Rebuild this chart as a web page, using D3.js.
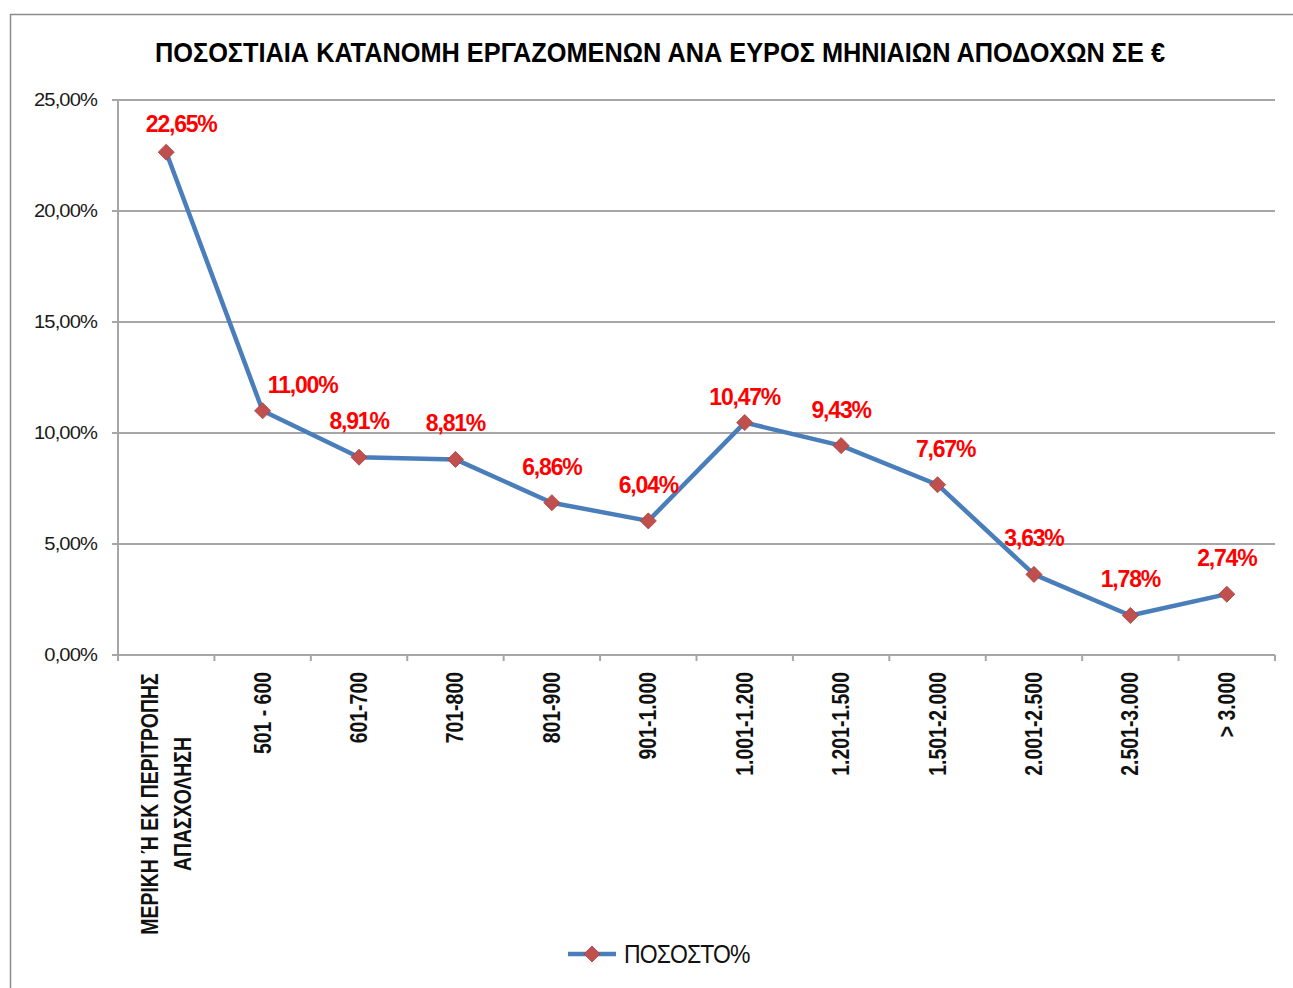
<!DOCTYPE html>
<html>
<head>
<meta charset="utf-8">
<script src="https://cdn.jsdelivr.net/npm/d3@7"></script>
<style>
  body { margin: 0; background: #fff; }
  text { font-family: "Liberation Sans", Arial, sans-serif; }
</style>
</head>
<body>
<div id="chart"></div>
<script>
const title = "ΠΟΣΟΣΤΙΑΙΑ ΚΑΤΑΝΟΜΗ ΕΡΓΑΖΟΜΕΝΩΝ ΑΝΑ ΕΥΡΟΣ ΜΗΝΙΑΙΩΝ ΑΠΟΔΟΧΩΝ ΣΕ €";
const categories = [
  ["ΜΕΡΙΚΗ Ή ΕΚ ΠΕΡΙΤΡΟΠΗΣ", "ΑΠΑΣΧΟΛΗΣΗ"],
  ["501 - 600"], ["601-700"], ["701-800"], ["801-900"], ["901-1.000"],
  ["1.001-1.200"], ["1.201-1.500"], ["1.501-2.000"], ["2.001-2.500"],
  ["2.501-3.000"], ["> 3.000"]
];
const values = [22.65, 11.00, 8.91, 8.81, 6.86, 6.04, 10.47, 9.43, 7.67, 3.63, 1.78, 2.74];
const yTicks = [0, 5, 10, 15, 20, 25];
const seriesName = "ΠΟΣΟΣΤΟ%";

const W = 1293, H = 988;
const plot = { left: 118, right: 1275, top: 100, bottom: 655 };

const svg = d3.select("#chart").append("svg")
  .attr("width", W).attr("height", H);

// outer frame
svg.append("rect")
  .attr("x", 10.5).attr("y", 14.5)
  .attr("width", 1290).attr("height", 980)
  .attr("fill", "none").attr("stroke", "#8c8c8c").attr("stroke-width", 1.5);

const fmt = v => v.toFixed(2).replace(".", ",") + "%";

const x = d3.scaleBand()
  .domain(d3.range(categories.length))
  .range([plot.left, plot.right])
  .padding(0);
const y = d3.scaleLinear().domain([0, 25]).range([plot.bottom, plot.top]);
const cx = i => x(i) + x.bandwidth() / 2;

// title
svg.append("text")
  .attr("x", 660).attr("y", 62)
  .attr("text-anchor", "middle")
  .attr("font-size", 28).attr("font-weight", "bold")
  .attr("textLength", 1010).attr("lengthAdjust", "spacingAndGlyphs")
  .text(title);

// gridlines
svg.append("g").selectAll("line")
  .data(yTicks)
  .join("line")
  .attr("x1", plot.left - 6).attr("x2", plot.right)
  .attr("y1", d => y(d)).attr("y2", d => y(d))
  .attr("stroke", "#a6a6a6").attr("stroke-width", 2);

// y axis line
svg.append("line")
  .attr("x1", plot.left).attr("x2", plot.left)
  .attr("y1", plot.top).attr("y2", plot.bottom)
  .attr("stroke", "#a6a6a6").attr("stroke-width", 2);

// y tick labels
svg.append("g").selectAll("text")
  .data(yTicks)
  .join("text")
  .attr("transform", d => `translate(97,${y(d) + 6}) scale(1.12,1)`)
  .attr("text-anchor", "end")
  .attr("font-size", 18)
  .attr("letter-spacing", -0.8)
  .attr("fill", "#1a1a1a")
  .text(d => d.toFixed(2).replace(".", ",") + "%");

// x ticks at band boundaries
svg.append("g").selectAll("line")
  .data(d3.range(categories.length + 1))
  .join("line")
  .attr("x1", i => plot.left + i * x.bandwidth())
  .attr("x2", i => plot.left + i * x.bandwidth())
  .attr("y1", plot.bottom).attr("y2", plot.bottom + 6)
  .attr("stroke", "#a6a6a6").attr("stroke-width", 2);

// x labels, rotated
const xl = svg.append("g");
categories.forEach((lines, i) => {
  const n = lines.length;
  lines.forEach((ln, k) => {
    const off = (k - (n - 1) / 2) * 33;
    const t = xl.append("text")
      .attr("font-size", 24).attr("font-weight", "bold")
      .attr("fill", "#111")
      .text(ln);
    if (n > 1) {
      t.attr("text-anchor", "middle")
        .attr("transform", `translate(${cx(i) + off + 8},${plot.bottom + 17 + 132}) rotate(-90) scale(0.81,1)`);
    } else {
      t.attr("text-anchor", "end")
        .attr("transform", `translate(${cx(i) + 8},${plot.bottom + 17}) rotate(-90) scale(0.81,1)`);
    }
  });
});

// line
const line = d3.line().x((d, i) => cx(i)).y(d => y(d));
svg.append("path")
  .datum(values)
  .attr("d", line)
  .attr("fill", "none")
  .attr("stroke", "#4a7ebb").attr("stroke-width", 4.5)
  .attr("stroke-linejoin", "round");

// markers
const diamond = d3.symbol().type(d3.symbolDiamond2).size(165);
svg.append("g").selectAll("path")
  .data(values)
  .join("path")
  .attr("d", diamond)
  .attr("transform", (d, i) => `translate(${cx(i)},${y(d)})`)
  .attr("fill", "#c0504d").attr("stroke", "#a8403d").attr("stroke-width", 0.8);

// data labels
const labelNudge = { 0: [15, 8], 1: [40, 10], 6: [0, 10], 8: [8, 0] };
svg.append("g").selectAll("text")
  .data(values)
  .join("text")
  .attr("x", (d, i) => cx(i) + (labelNudge[i] ? labelNudge[i][0] : 0))
  .attr("y", (d, i) => y(d) - 28 + (labelNudge[i] ? labelNudge[i][1] : 0))
  .attr("text-anchor", "middle")
  .attr("font-size", 23).attr("font-weight", "bold")
  .attr("letter-spacing", -1.2)
  .attr("fill", "#ff0000")
  .text(fmt);

// legend
const lg = svg.append("g").attr("transform", "translate(568,954)");
lg.append("line").attr("x1", 0).attr("x2", 48).attr("y1", 0).attr("y2", 0)
  .attr("stroke", "#4a7ebb").attr("stroke-width", 4.5);
lg.append("path").attr("d", diamond).attr("transform", "translate(24,0)")
  .attr("fill", "#c0504d").attr("stroke", "#a8403d").attr("stroke-width", 0.8);
lg.append("text")
  .attr("transform", "translate(56,9) scale(0.92,1)")
  .attr("font-size", 25)
  .attr("letter-spacing", -1)
  .attr("fill", "#111")
  .text(seriesName);
</script>
</body>
</html>
